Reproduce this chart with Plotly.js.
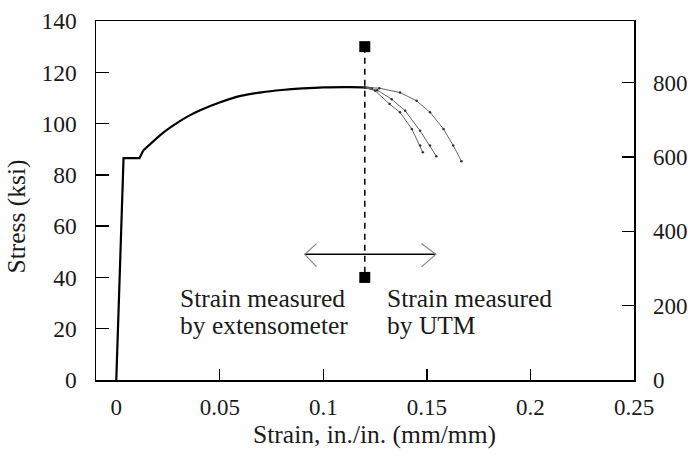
<!DOCTYPE html>
<html><head><meta charset="utf-8">
<script src="https://cdn.plot.ly/plotly-3.0.1.min.js"></script>
<style>html,body{margin:0;padding:0;background:#fff;}#chart{width:688px;height:459px;}</style>
</head><body><div id="chart"></div>
<script>
// Elastic branch and yield plateau
var elasticStrain = [0, 0.0035, 0.0112, 0.013];
var elasticStress = [0, 86.5, 86.5, 89.5];
// Strain-hardening branch (extensometer part)
var hardStrain = [0.013, 0.0227, 0.0294, 0.035, 0.0405, 0.0502, 0.06, 0.07, 0.08, 0.09, 0.1, 0.11, 0.12, 0.124];
var hardStress = [89.5, 96.5, 100.3, 103.0, 105.2, 108.3, 110.8, 112.2, 113.1, 113.7, 114.1, 114.2, 114.1, 113.6];
// Three post-necking curves (UTM)
var c1Strain = [0.12, 0.125, 0.132, 0.137, 0.1427, 0.1467, 0.148];
var c1Stress = [114.1, 112.8, 107.6, 104.4, 97.9, 91.4, 88.8];
var c2Strain = [0.12, 0.126, 0.133, 0.1395, 0.1467, 0.1515, 0.1545];
var c2Stress = [114.1, 113.0, 109.5, 105.0, 97.2, 91.4, 87.3];
var c3Strain = [0.12, 0.127, 0.137, 0.145, 0.1515, 0.158, 0.1627, 0.1667];
var c3Stress = [114.1, 113.8, 112.1, 108.9, 104.4, 97.9, 91.4, 85.3];
// Divider between measurement methods
var divStrain = [0.12, 0.12];
var divStress = [130, 40];
// Double arrow
var arrowStrain = [0.091, 0.1543];
var arrowStress = [49, 49];
var headLStrain = [0.0967, 0.091, 0.0967];
var headLStress = [53.2, 49, 44.1];
var headRStrain = [0.1474, 0.1543, 0.1474];
var headRStress = [53.2, 49, 44.1];
// Axis ticks
var xTicks = [0, 0.05, 0.1, 0.15, 0.2, 0.25];
var xTickText = ['0', '0.05', '0.1', '0.15', '0.2', '0.25'];
var yTicks = [0, 20, 40, 60, 80, 100, 120, 140];
var mpaTicks = [0, 200, 400, 600, 800];
var KSI_TO_MPA = 6.894757;

var serif = '"Times New Roman", "Liberation Serif", serif';
var txt = '#1a1a1a';
var annFont = {family: serif, size: 25.5, color: txt};
var traces = [
  {x: elasticStrain, y: elasticStress, mode: 'lines', line: {color: '#000', width: 2.2}},
  {x: hardStrain, y: hardStress, mode: 'lines', line: {color: '#000', width: 2.2, shape: 'spline', smoothing: 0.8}},
  {x: c1Strain, y: c1Stress, mode: 'lines+markers', line: {color: '#666', width: 1}, marker: {size: 2.5, color: '#333'}},
  {x: c2Strain, y: c2Stress, mode: 'lines+markers', line: {color: '#666', width: 1}, marker: {size: 2.5, color: '#333'}},
  {x: c3Strain, y: c3Stress, mode: 'lines+markers', line: {color: '#666', width: 1}, marker: {size: 2.5, color: '#333'}},
  {x: divStrain, y: divStress, mode: 'lines+markers', line: {color: '#000', width: 1.5, dash: '6px,5px'}, marker: {symbol: 'square', size: 11, color: '#000'}},
  {x: arrowStrain, y: arrowStress, mode: 'lines', line: {color: '#000', width: 1.5}},
  {x: headLStrain, y: headLStress, mode: 'lines', line: {color: '#888', width: 1.2}},
  {x: headRStrain, y: headRStress, mode: 'lines', line: {color: '#888', width: 1.2}},
  {x: [0.25], y: [0], yaxis: 'y2', mode: 'markers', marker: {opacity: 0}}
];
var layout = {
  width: 688, height: 459,
  margin: {l: 96, r: 53.5, t: 20.5, b: 79},
  paper_bgcolor: '#fff', plot_bgcolor: '#fff',
  showlegend: false,
  font: {family: serif, color: txt, size: 23},
  xaxis: {
    range: [-0.0098, 0.25], tickvals: xTicks, ticktext: xTickText,
    ticks: 'inside', ticklen: 11, tickcolor: '#000', tickwidth: 1.3,
    showline: true, linecolor: '#000', linewidth: 1.5, mirror: true,
    showgrid: false, zeroline: false, ticklabelstandoff: 6,
    tickfont: {family: serif, size: 23, color: txt},
    title: {text: '&nbsp;&nbsp;&nbsp;Strain, in./in. (mm/mm)', font: {family: serif, size: 25.5, color: txt}, standoff: 4}
  },
  yaxis: {
    range: [0, 140], tickvals: yTicks,
    ticks: 'inside', ticklen: 13, tickcolor: '#000', tickwidth: 1.3,
    showline: true, linecolor: '#000', linewidth: 1.5,
    showgrid: false, zeroline: false, ticklabelstandoff: 13,
    tickfont: {family: serif, size: 23.5, color: txt},
    title: {text: 'Stress (ksi)&nbsp;&nbsp;&nbsp;&nbsp;&nbsp;', font: {family: serif, size: 25.5, color: txt}, standoff: 8}
  },
  yaxis2: {
    overlaying: 'y', side: 'right', range: [0, 140 * KSI_TO_MPA], tickvals: mpaTicks,
    ticks: 'inside', ticklen: 12, tickcolor: '#000', tickwidth: 1.3,
    showline: true, linecolor: '#000', linewidth: 1.5,
    showgrid: false, zeroline: false, ticklabelstandoff: 13,
    tickfont: {family: serif, size: 23, color: txt}
  },
  annotations: [
    {x: 0.0297, y: 31.9, xref: 'x', yref: 'y', text: 'Strain measured', showarrow: false, xanchor: 'left', yanchor: 'middle', font: annFont},
    {x: 0.0297, y: 21.4, xref: 'x', yref: 'y', text: 'by extensometer', showarrow: false, xanchor: 'left', yanchor: 'middle', font: annFont},
    {x: 0.1296, y: 31.9, xref: 'x', yref: 'y', text: 'Strain measured', showarrow: false, xanchor: 'left', yanchor: 'middle', font: annFont},
    {x: 0.1296, y: 21.4, xref: 'x', yref: 'y', text: 'by UTM', showarrow: false, xanchor: 'left', yanchor: 'middle', font: annFont}
  ]
};
Plotly.newPlot('chart', traces, layout, {displayModeBar: false, staticPlot: true});
</script></body></html>
